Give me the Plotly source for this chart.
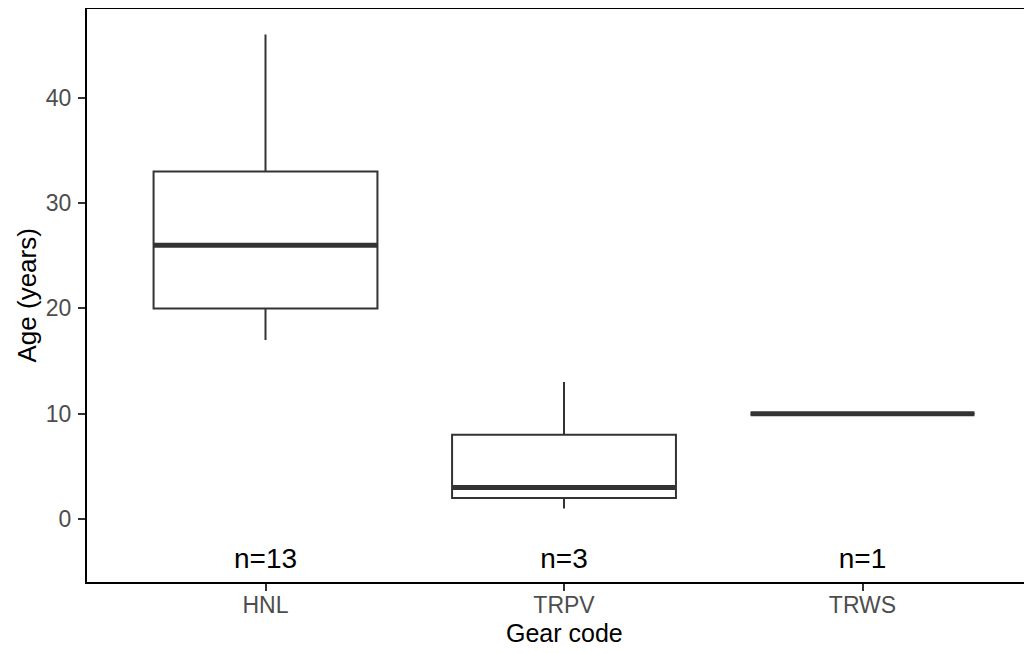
import plotly.graph_objects as go

categories = ["HNL", "TRPV", "TRWS"]
lower_whisker = [17, 1, 10]
q1 = [20, 2, 10]
median = [26, 3, 10]
q3 = [33, 8, 10]
upper_whisker = [46, 13, 10]
counts = [13, 3, 1]
y_ticks = [0, 10, 20, 30, 40]

pos = list(range(1, len(categories) + 1))
BOX_W = 0.75
FONT = "Liberation Sans, Arial, sans-serif"
DARK = "#333333"

fig = go.Figure()
fig.add_trace(go.Box(
    x=pos, q1=q1, median=median, q3=q3,
    lowerfence=lower_whisker, upperfence=upper_whisker,
    width=BOX_W, fillcolor="white",
    line=dict(color=DARK, width=2), whiskerwidth=0,
    boxpoints=False, showlegend=False, hoverinfo="skip",
))
# thick median bars
for p, m in zip(pos, median):
    fig.add_trace(go.Scatter(
        x=[p - BOX_W / 2, p + BOX_W / 2], y=[m, m], mode="lines",
        line=dict(color=DARK, width=5), showlegend=False, hoverinfo="skip",
    ))
fig.add_trace(go.Scatter(
    x=pos, y=[-4.0] * len(pos), mode="text",
    text=[f"n={c}" for c in counts], textposition="middle center",
    textfont=dict(family=FONT, size=28, color="black"),
    showlegend=False, hoverinfo="skip",
))

fig.update_layout(
    width=1016, height=638,
    margin=dict(l=79, r=0, t=1, b=64, autoexpand=False),
    paper_bgcolor="white", plot_bgcolor="white",
    font=dict(family=FONT),
    xaxis=dict(
        range=[0.402, 3.541], tickmode="array", tickvals=pos, ticktext=categories,
        showgrid=False, zeroline=False, showline=True, mirror=True,
        linecolor="black", linewidth=2, automargin=False,
        ticks="outside", ticklen=7, tickwidth=2, tickcolor=DARK,
        tickfont=dict(family=FONT, size=23, color="#4D4D4D"),
        ticklabelstandoff=-6,
    ),
    yaxis=dict(
        range=[-5.98, 48.43], tickmode="array", tickvals=y_ticks,
        showgrid=False, zeroline=False, showline=True,
        linecolor="black", linewidth=2, automargin=False,
        ticks="outside", ticklen=7, tickwidth=2, tickcolor=DARK,
        tickfont=dict(family=FONT, size=23, color="#4D4D4D"),
        ticklabelstandoff=2,
    ),
    annotations=[
        dict(text="Gear code", xref="x", x=2, yref="paper", y=0,
             xanchor="center", yanchor="middle", yshift=-51, showarrow=False,
             font=dict(family=FONT, size=25, color="black")),
        dict(text="Age (years)", xref="paper", x=0, yref="paper", y=0.5,
             xanchor="center", yanchor="middle", xshift=-61, textangle=-90,
             showarrow=False, font=dict(family=FONT, size=26, color="black")),
    ],
)

fig.write_html("out.html")
